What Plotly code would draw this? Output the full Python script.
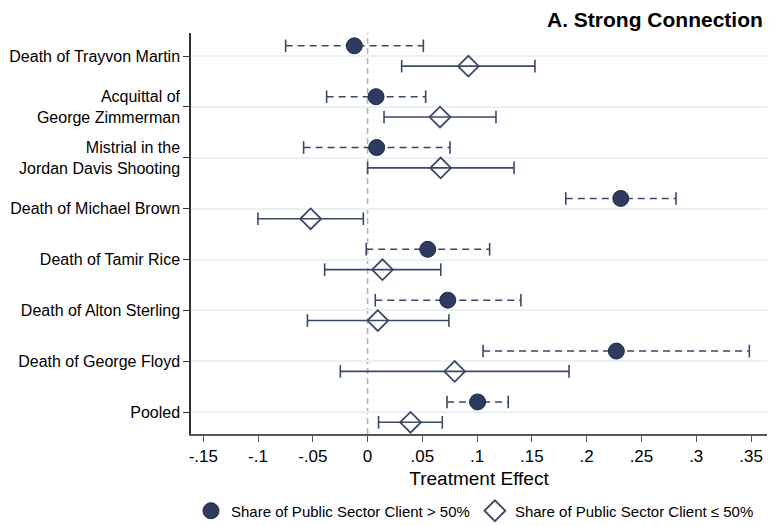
import plotly.graph_objects as go

events = ["Death of Trayvon Martin", "Acquittal of<br>George Zimmerman",
          "Mistrial in the<br>Jordan Davis Shooting", "Death of Michael Brown",
          "Death of Tamir Rice", "Death of Alton Sterling",
          "Death of George Floyd", "Pooled"]
positions = [1, 2, 3, 4, 5, 6, 7, 8]

# Share of public sector client > 50%
high_est = [-0.0121, 0.0077, 0.0083, 0.2311, 0.0549, 0.0732, 0.2271, 0.1004]
high_lo = [-0.0748, -0.0374, -0.0584, 0.1809, -0.0013, 0.0070, 0.1054, 0.0725]
high_hi = [0.0509, 0.0530, 0.0752, 0.2815, 0.1114, 0.1400, 0.3485, 0.1284]

# Share of public sector client <= 50%
low_est = [0.0920, 0.0661, 0.0667, -0.0520, 0.0136, 0.0093, 0.0795, 0.0392]
low_lo = [0.0311, 0.0150, 0.0000, -0.1001, -0.0392, -0.0549, -0.0249, 0.0100]
low_hi = [0.1528, 0.1172, 0.1337, -0.0039, 0.0668, 0.0742, 0.1839, 0.0682]

x_ticks = [-0.15, -0.1, -0.05, 0, 0.05, 0.1, 0.15, 0.2, 0.25, 0.3, 0.35]
x_ticklabels = ["-.15", "-.1", "-.05", "0", ".05", ".1", ".15", ".2", ".25", ".3", ".35"]

NAVY = "#2d3b5f"
LINE = "#3a4868"
OFF = 0.2
FONT = "Liberation Sans, Arial, Helvetica, sans-serif"

y_high = [p - OFF for p in positions]
y_low = [p + OFF for p in positions]


def seg(lo, hi, ys):
    xs, yy = [], []
    for a, b, y in zip(lo, hi, ys):
        xs += [a, b, None]
        yy += [y, y, None]
    return xs, yy


fig = go.Figure()

# CI lines
xs, yy = seg(high_lo, high_hi, y_high)
fig.add_trace(go.Scatter(x=xs, y=yy, mode="lines", showlegend=False, hoverinfo="skip",
                         line=dict(color=LINE, width=1.6, dash="7px,5px")))
xs, yy = seg(low_lo, low_hi, y_low)
fig.add_trace(go.Scatter(x=xs, y=yy, mode="lines", showlegend=False, hoverinfo="skip",
                         line=dict(color=LINE, width=1.6)))

# caps
fig.add_trace(go.Scatter(x=high_lo + high_hi, y=y_high + y_high, mode="markers",
                         showlegend=False, hoverinfo="skip",
                         marker=dict(symbol="line-ns", size=9, line=dict(color=LINE, width=1.6))))
fig.add_trace(go.Scatter(x=low_lo + low_hi, y=y_low + y_low, mode="markers",
                         showlegend=False, hoverinfo="skip",
                         marker=dict(symbol="line-ns", size=9, line=dict(color=LINE, width=1.6))))

# point estimates
fig.add_trace(go.Scatter(x=high_est, y=y_high, mode="markers",
                         name="Share of Public Sector Client > 50%",
                         marker=dict(symbol="circle", size=16, color=NAVY,
                                     line=dict(color="#1f2a47", width=1))))
fig.add_trace(go.Scatter(x=low_est, y=y_low, mode="markers",
                         name="Share of Public Sector Client ≤ 50%",
                         marker=dict(symbol="diamond-open", size=16, color=LINE,
                                     line=dict(color=LINE, width=1.8))))

fig.add_shape(type="line", xref="x", yref="paper", x0=0, x1=0, y0=0, y1=1,
              line=dict(color="#b5b5b5", width=1.6, dash="6px,4px"), layer="below")

fig.update_layout(
    width=769, height=526,
    margin=dict(l=191, r=2, t=33, b=92, autoexpand=False),
    paper_bgcolor="white", plot_bgcolor="white",
    font=dict(family=FONT, color="black"),
    title=dict(text="<b>A. Strong Connection</b>", x=0.992, xanchor="right",
               y=0.963, yanchor="middle", font=dict(size=21, color="black")),
    xaxis=dict(range=[-0.1612, 0.3646], tickvals=x_ticks, ticktext=x_ticklabels,
               showgrid=False, zeroline=False, showline=True, linecolor="#555555",
               linewidth=1.5, ticks="outside", ticklen=6, tickwidth=1.3, tickcolor="#555555",
               tickfont=dict(size=17), title=dict(text="Treatment Effect", font=dict(size=19),
                                                  standoff=7)),
    yaxis=dict(range=[8.43, 0.548], tickvals=positions, ticktext=events,
               showgrid=True, gridcolor="#e9f1f3", gridwidth=1.5, zeroline=False,
               showline=True, linecolor="#333333", linewidth=1.5,
               ticks="outside", ticklen=6, tickwidth=1.3, tickcolor="#333333",
               tickfont=dict(size=16)),
    legend=dict(orientation="h", x=0.0, xanchor="left", y=-0.192, yanchor="middle",
                font=dict(size=15), itemwidth=30, tracegroupgap=0,
                bgcolor="rgba(0,0,0,0)"),
)

fig.write_html("out.html")
